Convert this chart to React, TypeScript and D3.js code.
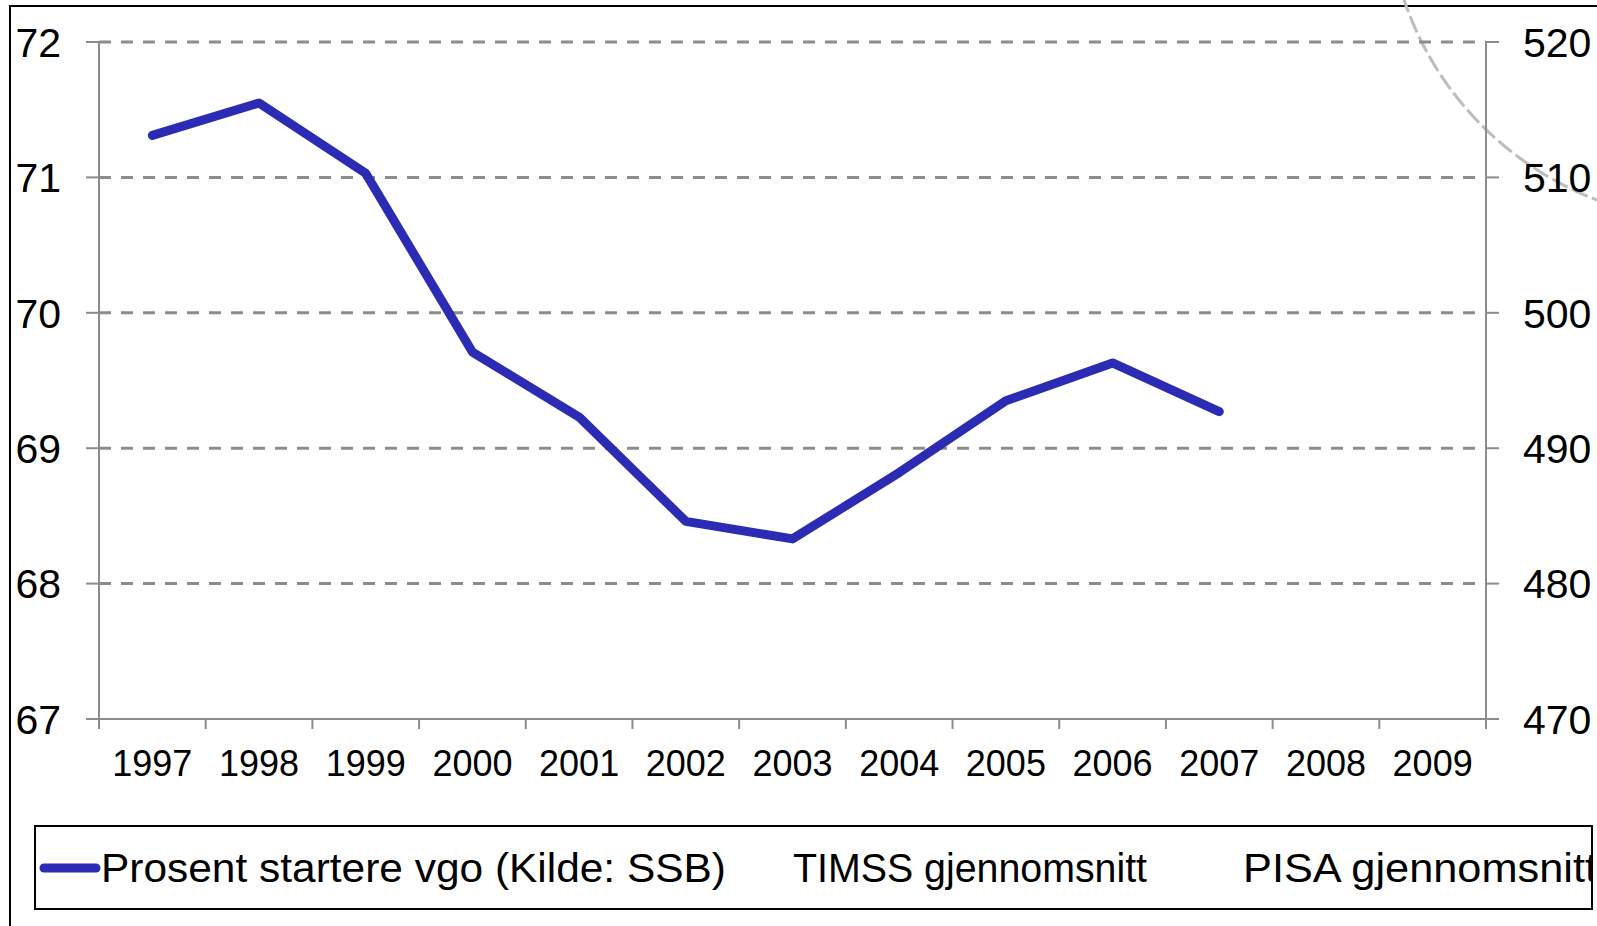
import React from 'react';
import * as d3 from 'd3';

const years = ['1997', '1998', '1999', '2000', '2001', '2002', '2003', '2004', '2005', '2006', '2007', '2008', '2009'];
const startPct = [71.31, 71.55, 71.03, 69.71, 69.23, 68.46, 68.33, 68.82, 69.35, 69.63, 69.27];
const leftTicks = [67, 68, 69, 70, 71, 72];
const rightTicks = [470, 480, 490, 500, 510, 520];
const legendLabels = ['Prosent startere vgo (Kilde: SSB)', 'TIMSS gjennomsnitt', 'PISA gjennomsnitt'];

const W = 1597;
const H = 926;
const font = '"Liberation Sans", Arial, sans-serif';
const blue = '#2b2bb3';
const grey = '#8c8c8c';

const App = () => {
  const left = 99;
  const right = 1486;
  const top = 42;
  const bottom = 719;

  const x = d3.scaleBand().domain(years).range([left, right]);
  const yL = d3.scaleLinear().domain([67, 72]).range([bottom, top]);
  const yR = d3.scaleLinear().domain([470, 520]).range([bottom, top]);

  const line = d3.line<number>()
    .x((d, i) => (x(years[i]) as number) + x.bandwidth() / 2)
    .y(d => yL(d));

  // light dashed arc in the corner (leftover from the slide)
  const arc = d3.arc()({
    innerRadius: 325,
    outerRadius: 325,
    startAngle: Math.PI * 1.0,
    endAngle: Math.PI * 1.5,
  });

  const boundaries = d3.range(years.length + 1).map(i => left + i * x.step());

  return (
    <svg width={W} height={H} style={{ position: 'absolute', left: 0, top: 0, background: '#fff' }} fontFamily={font}>
      <defs>
        <clipPath id="legendClip">
          <rect x={35} y={826} width={1557} height={83} />
        </clipPath>
      </defs>
      <rect x={0} y={0} width={W} height={H} fill="#fff" />
      <rect x={10} y={6} width={1700} height={1000} fill="none" stroke="#000" strokeWidth={2} />

      <path d={arc as string} transform="translate(1712,-104)" fill="none" stroke="#bdbdbd" strokeWidth={3} strokeDasharray="13 9" />

      {/* gridlines */}
      {leftTicks.filter(t => t > 67).map(t => (
        <line key={t} x1={left} x2={right} y1={yL(t)} y2={yL(t)} stroke={grey} strokeWidth={3} strokeDasharray="12 10" />
      ))}

      {/* axes */}
      <line x1={left} x2={left} y1={top} y2={bottom} stroke={grey} strokeWidth={2} />
      <line x1={right} x2={right} y1={top} y2={bottom} stroke={grey} strokeWidth={2} />
      <line x1={left - 13} x2={right + 13} y1={bottom} y2={bottom} stroke={grey} strokeWidth={2} />
      {leftTicks.map(t => (
        <line key={t} x1={left - 13} x2={left} y1={yL(t)} y2={yL(t)} stroke={grey} strokeWidth={2} />
      ))}
      {rightTicks.map(t => (
        <line key={t} x1={right} x2={right + 13} y1={yR(t)} y2={yR(t)} stroke={grey} strokeWidth={2} />
      ))}
      {boundaries.map((b, i) => (
        <line key={i} x1={b} x2={b} y1={bottom} y2={bottom + 10} stroke={grey} strokeWidth={2} />
      ))}

      {/* tick labels */}
      {leftTicks.map(t => (
        <text key={t} x={61} y={yL(t)} dy="0.36em" textAnchor="end" fontSize={41}>{t}</text>
      ))}
      {rightTicks.map(t => (
        <text key={t} x={1523} y={yR(t)} dy="0.36em" textAnchor="start" fontSize={41}>{t}</text>
      ))}
      {years.map(yr => (
        <text key={yr} x={(x(yr) as number) + x.bandwidth() / 2} y={763} dy="0.36em" textAnchor="middle" fontSize={36}>{yr}</text>
      ))}

      {/* data */}
      <path d={line(startPct) as string} fill="none" stroke={blue} strokeWidth={9} strokeLinecap="round" strokeLinejoin="round" />

      {/* legend */}
      <rect x={35} y={826} width={1557} height={83} fill="none" stroke="#000" strokeWidth={2} />
      <g clipPath="url(#legendClip)" fontSize={41}>
        <line x1={44} x2={96} y1={868} y2={868} stroke={blue} strokeWidth={9} strokeLinecap="round" />
        <text x={101} y={882} textLength={625} lengthAdjust="spacingAndGlyphs">{legendLabels[0]}</text>
        <text x={793} y={882} textLength={354} lengthAdjust="spacingAndGlyphs">{legendLabels[1]}</text>
        <text x={1243} y={882} textLength={354} lengthAdjust="spacingAndGlyphs">{legendLabels[2]}</text>
      </g>
    </svg>
  );
};

export default App;
